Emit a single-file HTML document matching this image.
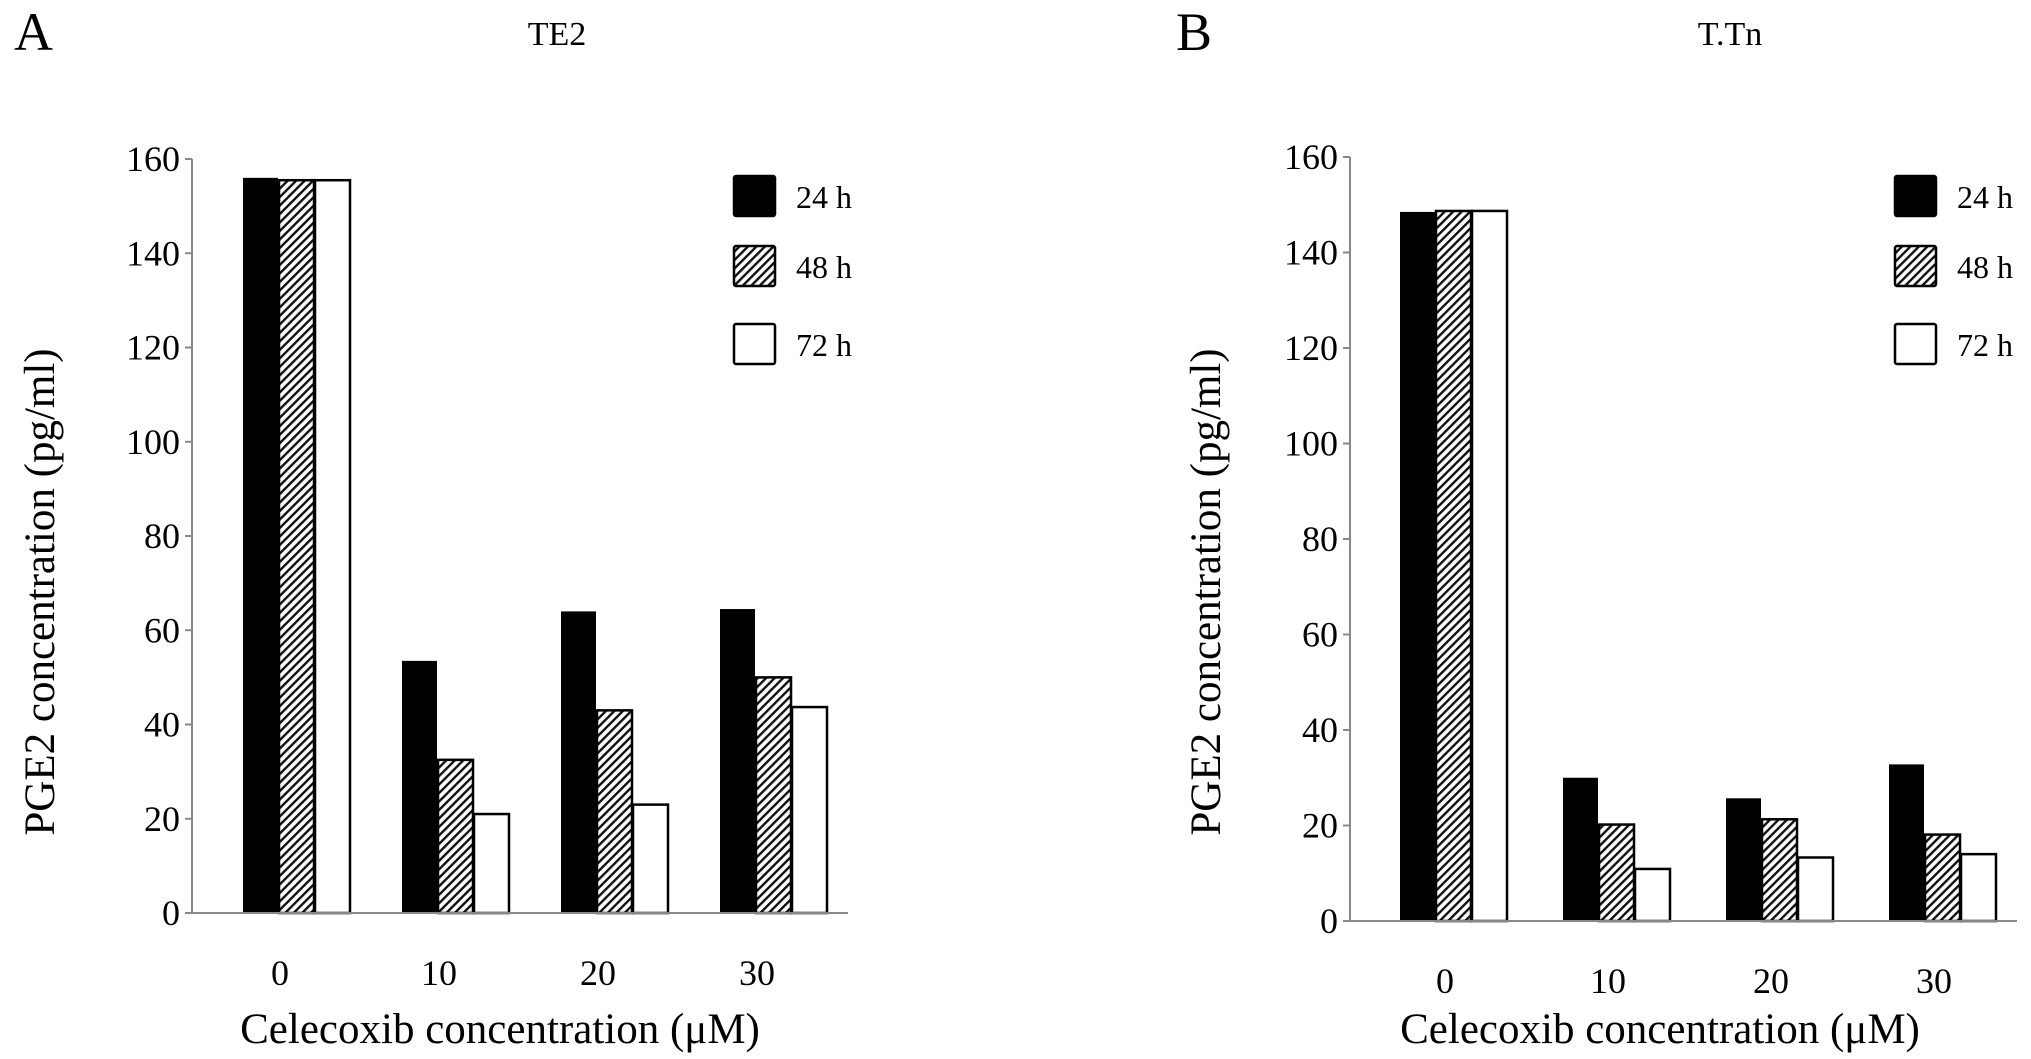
<!DOCTYPE html>
<html><head><meta charset="utf-8"><style>
html,body{margin:0;padding:0;background:#fff;}
svg{display:block;font-family:"Liberation Serif",serif;}
</style></head><body>
<svg id="s" width="2031" height="1059" viewBox="0 0 2031 1059">
<defs>
<pattern id="hatch" patternUnits="userSpaceOnUse" width="6" height="6" patternTransform="rotate(45)">
<rect width="6" height="6" fill="#fff"/><rect width="2.4" height="6" fill="#111"/>
</pattern>
</defs>
</svg>
<script>
const categories = ["0","10","20","30"];
const seriesNames = ["24 h","48 h","72 h"];
const yTicks = [0,20,40,60,80,100,120,140,160];
const te2_24 = [156, 53.5, 64, 64.5];
const te2_48 = [155.5, 32.5, 43, 50];
const te2_72 = [155.5, 21, 23, 43.7];
const ttn_24 = [148.5, 30, 25.7, 32.8];
const ttn_48 = [148.7, 20.2, 21.3, 18.1];
const ttn_72 = [148.7, 10.9, 13.3, 14];

const NS="http://www.w3.org/2000/svg";
const svg=document.getElementById('s');
function mk(tag,attrs,parent,text){const e=document.createElementNS(NS,tag);for(const k in attrs)e.setAttribute(k,attrs[k]);if(text!==undefined)e.textContent=text;(parent||svg).appendChild(e);return e;}
const fills=["#000","url(#hatch)","#fff"];

function panel(p){
  const g=mk('g',{});
  
  
  const y=v=>p.y0-(v/160)*(p.y0-p.y160);
  const xc=i=>p.x0+p.first+p.band*i;
  const bw=36;
  const L=mk('text',{x:p.letterX,y:50,'font-size':54},g,p.letter);
  
  
  const T=mk('text',{x:p.titleX,y:45,'font-size':34,'text-anchor':'middle'},g,p.title);
  
  
  p.series.forEach((arr,s)=>{
    arr.forEach((v,i)=>{
      const x=xc(i)-1.5*bw+s*bw;
      const r=mk('rect',{x:x+1,y:y(v),width:bw-1,height:p.y0-y(v),fill:fills[s],stroke:'#000','stroke-width':s===0?0:2.5},g);
      
      
    });
  });
  const ya=mk('line',{x1:p.x0,y1:p.y160,x2:p.x0,y2:p.y0,stroke:'#888','stroke-width':2},g);
  
  
  const xa=mk('line',{x1:p.x0,y1:p.y0,x2:p.x1,y2:p.y0,stroke:'#888','stroke-width':2},g);
  
  
  yTicks.forEach(t=>{
    mk('line',{x1:p.x0-7,y1:y(t),x2:p.x0,y2:y(t),stroke:'#888','stroke-width':2},g);
    const tl=mk('text',{x:p.x0-12,y:y(t)+12,'font-size':36,'text-anchor':'end'},g,String(t));
    
    
  });
  categories.forEach((c,i)=>{
    const tl=mk('text',{x:xc(i)+p.labOff,y:p.y0+72,'font-size':36,'text-anchor':'middle'},g,c);
    
    
  });
  const xt=mk('text',{x:p.xTitleX,y:1043,'font-size':43,'text-anchor':'middle'},g,'Celecoxib concentration (\u03bcM)');
  
  
  const yt=mk('text',{x:0,y:0,'font-size':43,'text-anchor':'middle',transform:`translate(${p.yTitleX},592) rotate(-90)`},g,'PGE2 concentration (pg/ml)');
  
  
  const ly=[176,246,324];
  seriesNames.forEach((n,s)=>{
    const r=mk('rect',{x:p.legX,y:ly[s],width:41,height:40,fill:fills[s],stroke:'#000','stroke-width':2.5,rx:2},g);
    
    
    const t=mk('text',{x:p.legX+62,y:ly[s]+32,'font-size':32},g,n);
    
    
  });
}
panel({name:'panel-a-te2',letter:'A',letterX:14,title:'TE2',titleX:557,x0:192,x1:848,y0:913,y160:159,first:104,band:159,labOff:-16,xTitleX:500,yTitleX:54,legX:734,series:[te2_24,te2_48,te2_72]});
panel({name:'panel-b-ttn',letter:'B',letterX:1176,title:'T.Tn',titleX:1730,x0:1350,x1:2017,y0:921,y160:157,first:103,band:163,labOff:-8,xTitleX:1660,yTitleX:1220,legX:1895,series:[ttn_24,ttn_48,ttn_72]});
</script>
</body></html>
